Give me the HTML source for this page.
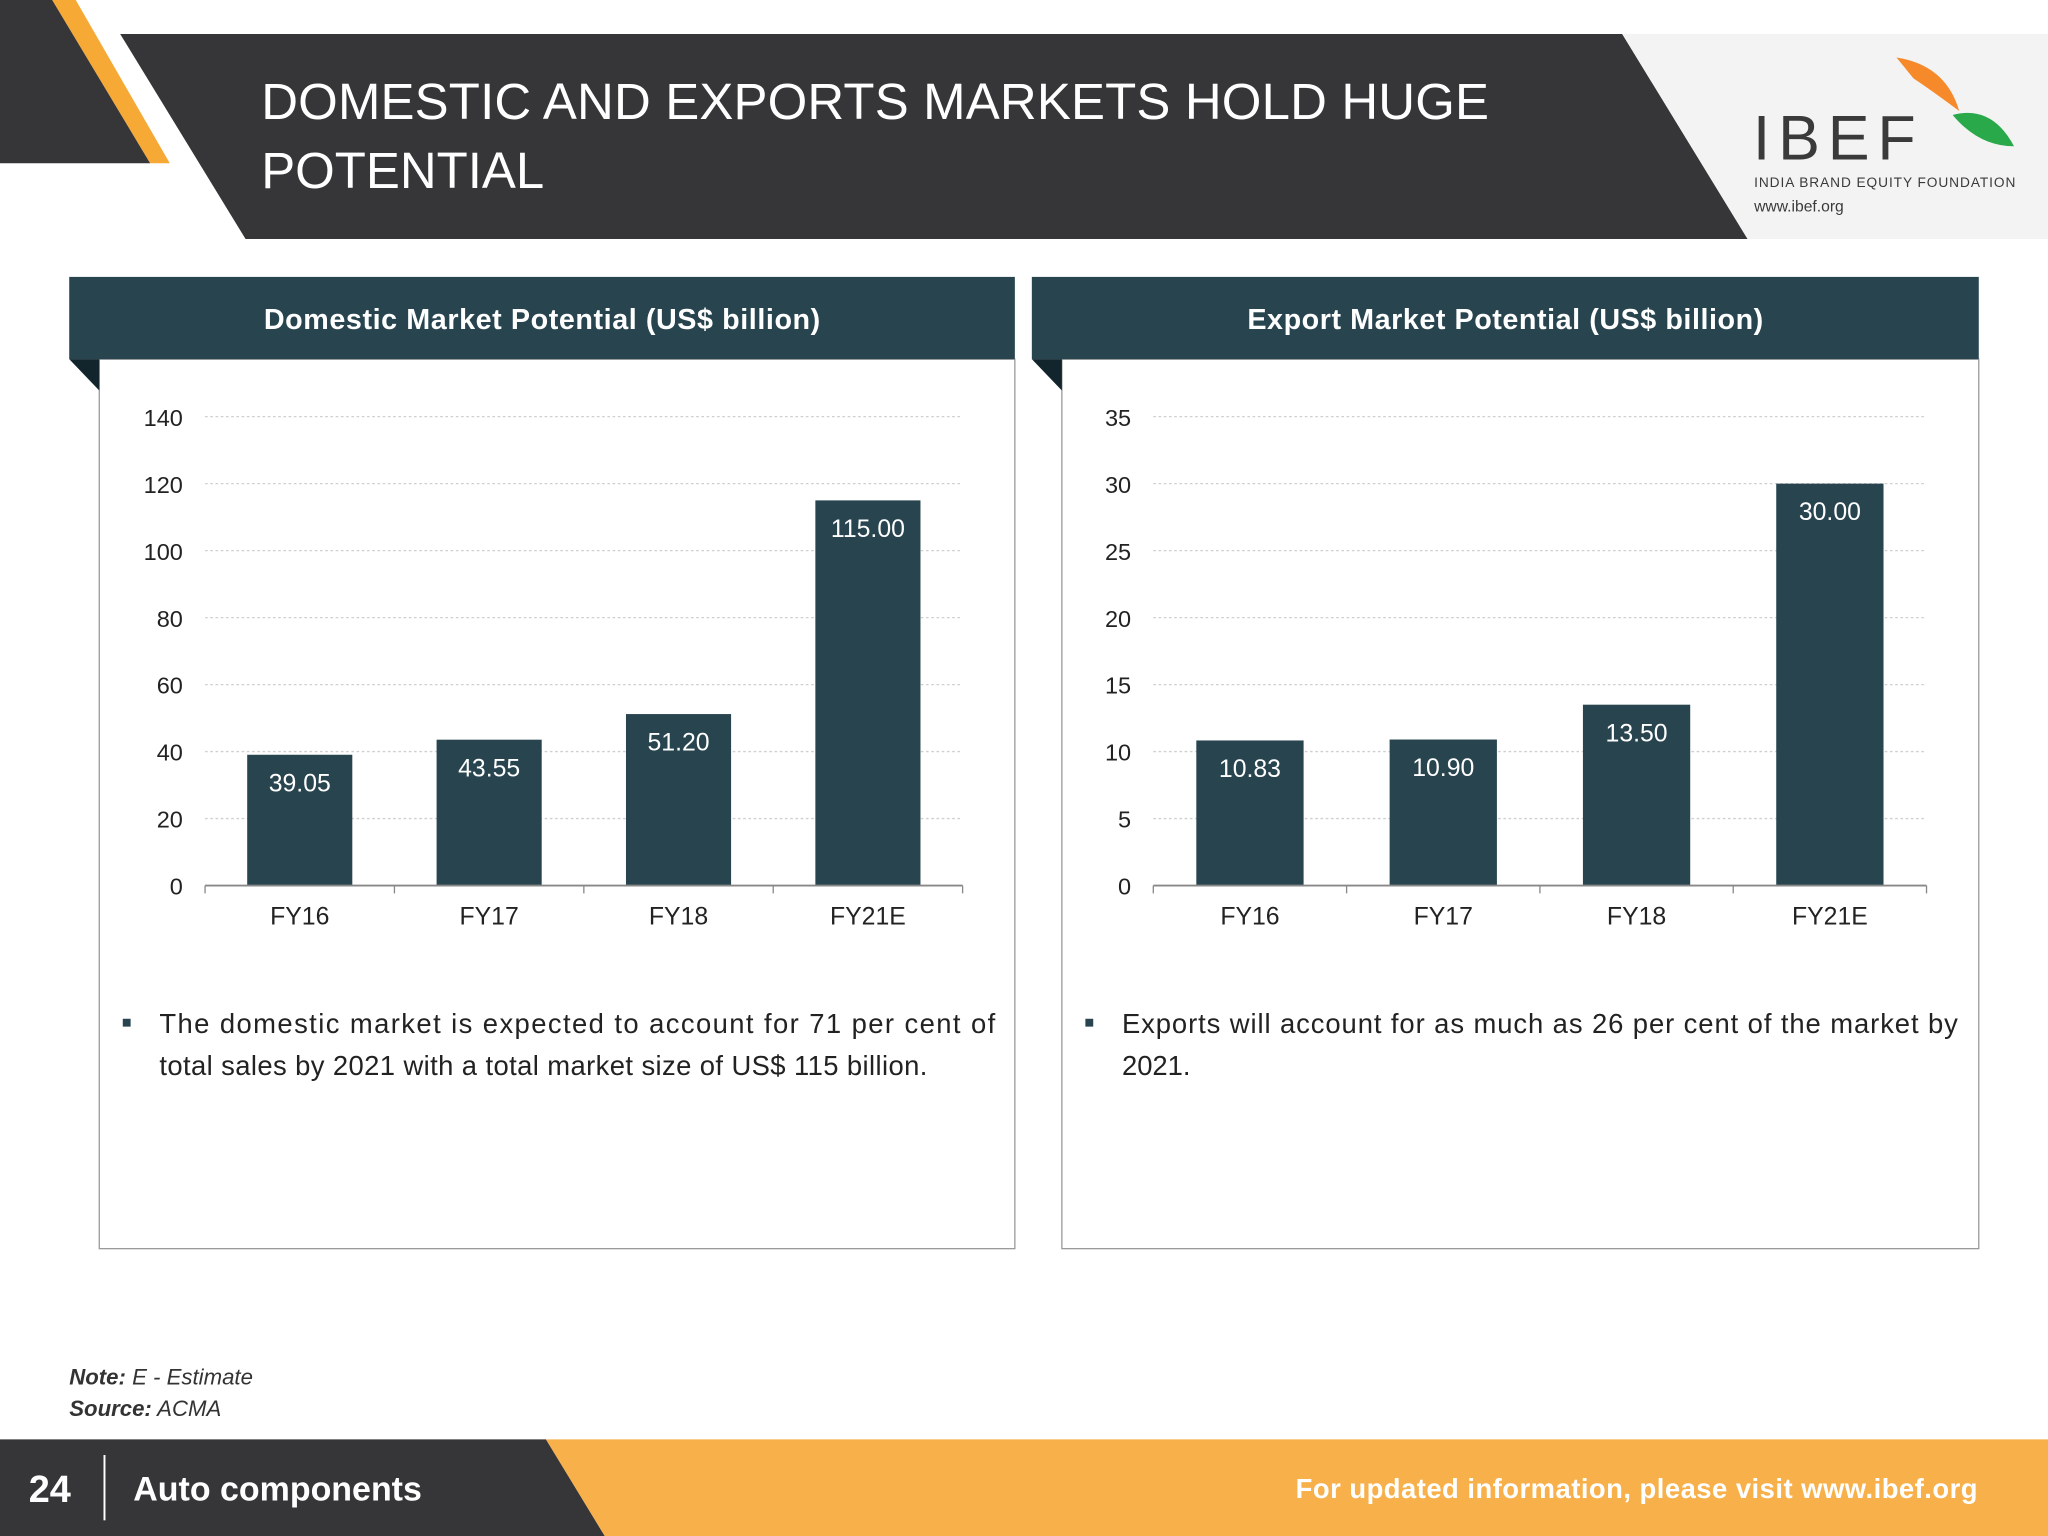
<!DOCTYPE html>
<html><head><meta charset="utf-8"><style>
html,body{margin:0;padding:0;background:#fff;}
svg{display:block;font-family:"Liberation Sans",Arial,sans-serif;}
</style></head><body>
<svg id="s" width="2048" height="1536" viewBox="0 0 1568 1176" xmlns="http://www.w3.org/2000/svg">
<rect width="1568" height="1176" fill="#fff"/>
<polygon points="0,0 40,0 115,125 0,125" fill="#363537"/>
<polygon points="40,0 58,0 130,125 115,125" fill="#f6a935"/>
<polygon points="92,26 1242,26 1338,183 188,183" fill="#363537"/>
<polygon points="1242,26 1568,26 1568,183 1338,183" fill="#f3f3f3"/>
<text x="200" y="91" font-size="39" fill="#fff" textLength="940">DOMESTIC AND EXPORTS MARKETS HOLD HUGE</text>
<text x="200" y="144" font-size="39" fill="#fff">POTENTIAL</text>
<g>
<path d="M1452,44 Q1490,50 1500,85 Q1480,70 1465,60 Z" fill="#f6892a"/>
<path d="M1495,88 Q1525,80 1542,112 Q1515,112 1495,88 Z" fill="#2aa94a"/>
<text x="1342" y="122" font-size="48" fill="#3a3a3a" letter-spacing="6">IBEF</text>
<text x="1343" y="143" font-size="10.5" fill="#3a3a3a" textLength="200">INDIA BRAND EQUITY FOUNDATION</text>
<text x="1343" y="162" font-size="12" fill="#3a3a3a">www.ibef.org</text>
</g>
<g id="panels"></g>
<text x="53" y="1060" font-size="17" font-style="italic" fill="#333"><tspan font-weight="bold">Note:</tspan> E - Estimate</text>
<text x="53" y="1084" font-size="17" font-style="italic" fill="#333"><tspan font-weight="bold">Source:</tspan> ACMA</text>
<polygon points="0,1102 418,1102 463,1176 0,1176" fill="#363537"/>
<polygon points="418,1102 1568,1102 1568,1176 463,1176" fill="#f7b04a"/>
<text x="22" y="1150" font-size="29" font-weight="bold" fill="#fff">24</text>
<line x1="80" y1="1114" x2="80" y2="1164" stroke="#fff" stroke-width="1.5"/>
<text x="102" y="1149" font-size="26" font-weight="bold" fill="#fff" textLength="221">Auto components</text>
<text x="1514" y="1147" font-size="21" font-weight="bold" fill="#fff" text-anchor="end" textLength="522">For updated information, please visit www.ibef.org</text>
</svg>
<script>
const categories=["FY16","FY17","FY18","FY21E"];
const domesticValues=[39.05,43.55,51.20,115.00];
const exportValues=[10.83,10.90,13.50,30.00];
const domesticTicks=[0,20,40,60,80,100,120,140];
const exportTicks=[0,5,10,15,20,25,30,35];
const NS="http://www.w3.org/2000/svg";
const root=document.getElementById('panels');
function mk(tag,attrs,parent,text){const e=document.createElementNS(NS,tag);for(const k in attrs)e.setAttribute(k,attrs[k]);if(text!==undefined)e.textContent=text;parent.appendChild(e);return e;}
function panel(cfg){
  const g=mk('g',{},root);
  
  
  const box=mk('rect',{x:cfg.hx+23,y:275,width:cfg.hw-23,height:681,fill:'#fff',stroke:'#9a9a9a','stroke-width':1},g);
  
  
  mk('polygon',{points:`${cfg.hx},275 ${cfg.hx+23},275 ${cfg.hx+23},299`,fill:'#13252c'},g);
  const h=mk('rect',{x:cfg.hx,y:212,width:cfg.hw,height:63,fill:'#27444f'},g);
  
  
  const ht=mk('text',{x:cfg.hx+cfg.hw/2,y:252,'font-size':22,'font-weight':'bold',fill:'#fff','text-anchor':'middle',textLength:cfg.tw},g,cfg.title);
  
  
  const y0=678,y1=319,max=cfg.ticks[cfg.ticks.length-1];
  const ys=v=>y0-(v/max)*(y0-y1);
  const cw=(cfg.x1-cfg.x0)/categories.length;
  const xs=i=>cfg.x0+cw*(i+0.5);
  cfg.ticks.forEach(t=>{
    if(t>0){const l=mk('line',{x1:cfg.x0,x2:cfg.x1,y1:ys(t),y2:ys(t),stroke:'#cfcfcf','stroke-dasharray':'2,2'},g);
      }
    const tl=mk('text',{x:cfg.x0-17,y:ys(t)+7,'font-size':18,fill:'#222','text-anchor':'end'},g,String(t));
    
    
  });
  cfg.values.forEach((v,i)=>{
    const bw=cw*0.555;
    const b=mk('rect',{x:xs(i)-bw/2,y:ys(v),width:bw,height:y0-ys(v),fill:'#27444f'},g);
    
    
    const vl=mk('text',{x:xs(i),y:ys(v)+28,'font-size':19,fill:'#fff','text-anchor':'middle'},g,v.toFixed(2));
    
    
    const cl=mk('text',{x:xs(i),y:708,'font-size':19,fill:'#222','text-anchor':'middle'},g,categories[i]);
    
    
  });
  const ax=mk('line',{x1:cfg.x0,x2:cfg.x1,y1:y0,y2:y0,stroke:'#888','stroke-width':1.5},g);
  
  
  for(let i=0;i<=categories.length;i++)mk('line',{x1:cfg.x0+cw*i,x2:cfg.x0+cw*i,y1:y0,y2:y0+6,stroke:'#888'},g);
  mk('rect',{x:cfg.hx+41,y:780,width:6,height:6,fill:'#27444f'},g);
  cfg.bullet.forEach((ln,k)=>{
    const t=mk('text',{x:cfg.hx+69,y:791+32*k,'font-size':21,fill:'#222'},g,ln.t);
    if(ln.w)t.setAttribute('textLength',ln.w);
    
    
  });
}
panel({name:'domestic-panel',hx:53,hw:724,x0:157,x1:737,values:domesticValues,ticks:domesticTicks,tw:426,title:'Domestic Market Potential (US$ billion)',
 bullet:[{t:'The domestic market is expected to account for 71 per cent of',w:640},{t:'total sales by 2021 with a total market size of US$ 115 billion.',w:588}]});
panel({name:'export-panel',hx:790,hw:725,x0:883,x1:1475,values:exportValues,ticks:exportTicks,tw:395,title:'Export Market Potential (US$ billion)',
 bullet:[{t:'Exports will account for as much as 26 per cent of the market by',w:640},{t:'2021.'}]});
</script>
</body></html>
